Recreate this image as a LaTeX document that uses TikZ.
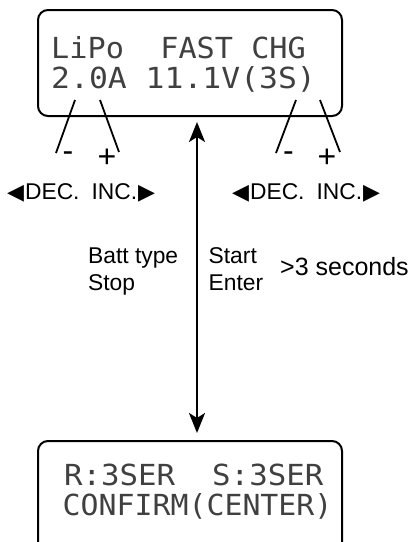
\documentclass[tikz,border=0pt]{standalone}
\usepackage{fontspec}
\usepackage{graphicx}
\setmainfont{Liberation Sans}
\newfontfamily\lcdfont{DejaVu Sans Mono}
\newfontfamily\trifont{DejaVu Sans}
\usetikzlibrary{arrows.meta}
\begin{document}
\begin{tikzpicture}[x=1pt,y=-1pt,
  lcdbox/.style={draw, line width=2pt, rounded corners=10pt, minimum width=304pt, inner sep=0pt},
  lcdtext/.style={anchor=base west, inner sep=0pt, text=black!75, font=\lcdfont\fontsize{29}{30}\selectfont},
  btnline/.style={line width=1.8pt},
  sign/.style={anchor=base, inner sep=0pt, font=\fontsize{32}{32}\selectfont},
  lbl/.style={anchor=base west, inner sep=0pt, font=\fontsize{22.8}{27}\selectfont},
  dblarrow/.style={line width=2.4pt, {Stealth[length=20pt,width=16pt,inset=5pt]}-{Stealth[length=20pt,width=16pt,inset=5pt]}}
]
\clip (0,0) rectangle (416,542);
% boxes
\node[lcdbox, minimum height=106pt] (lcd1) at (190,63) {};
\node[lcdbox, minimum height=140pt] (lcd2) at (190,511) {};
% LCD texts
\node[lcdtext] (t1) at (51,58.5) {\scalebox{1.042}[1]{LiPo~~FAST CHG}};
\node[lcdtext] (t2) at (51,88.5) {\scalebox{1.083}[1]{2.0A 11.1V(3S)}};
\node[lcdtext] (t3) at (64,485) {\scalebox{1.06}[1]{R:3SER~~S:3SER}};
\node[lcdtext] (t4) at (62.5,515) {\scalebox{1.03}[1]{CONFIRM(CENTER)}};
% button lines
\coordinate (m1a) at (75,100); \coordinate (m1b) at (56,153);
\coordinate (p1a) at (100,100); \coordinate (p1b) at (119,152);
\coordinate (m2a) at (296,100); \coordinate (m2b) at (276,153);
\coordinate (p2a) at (320,100); \coordinate (p2b) at (340,152);
\draw[btnline] (m1a) -- (m1b);
\draw[btnline] (p1a) -- (p1b);
\draw[btnline] (m2a) -- (m2b);
\draw[btnline] (p2a) -- (p2b);
\node[sign] (s1) at (68,161) {-};
\node[sign] (s2) at (107,167) {+};
\node[sign] (s3) at (288.5,161) {-};
\node[sign] (s4) at (327,167) {+};
% DEC/INC
\node[lbl] (d1) at (7,199) {{\trifont\fontsize{22}{22}\selectfont ◀}\hspace{1pt}DEC.\hspace{12pt}INC.\hspace{1pt}{\trifont\fontsize{22}{22}\selectfont ▶}};
\node[lbl] (d2) at (232,199) {{\trifont\fontsize{22}{22}\selectfont ◀}\hspace{1pt}DEC.\hspace{12pt}INC.\hspace{1pt}{\trifont\fontsize{22}{22}\selectfont ▶}};
% arrow
\draw[dblarrow, shorten <=5pt, shorten >=7pt] ([xshift=7pt]lcd1.south) -- ([xshift=7pt]lcd2.north);
% labels
\node[lbl] (bt) at (88,263) {Batt type};
\node[lbl] (st) at (88,290) {Stop};
\node[lbl] (sa) at (208.5,263) {Start};
\node[lbl] (en) at (208.5,290) {Enter};
\node[lbl, font=\fontsize{25}{27}\selectfont] (sec) at (280,275) {>3 seconds};
\end{tikzpicture}
\end{document}
